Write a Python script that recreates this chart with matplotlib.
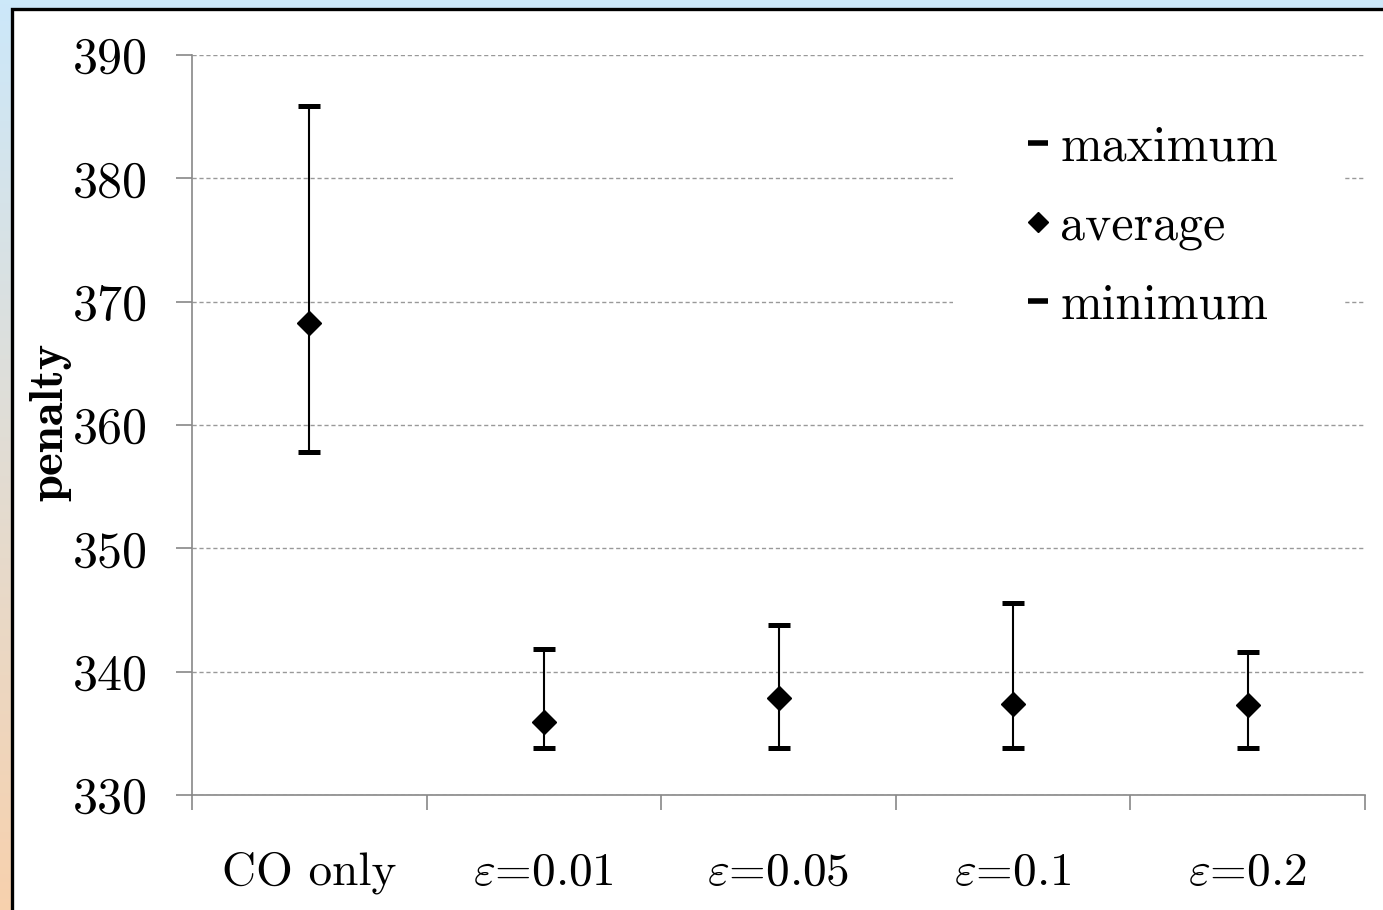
import numpy as np
import matplotlib
matplotlib.use('Agg')
import matplotlib.pyplot as plt
from matplotlib.lines import Line2D
from matplotlib.patches import Rectangle

plt.rcParams['font.family'] = ['cmr10', 'DejaVu Serif']
plt.rcParams['mathtext.fontset'] = 'cm'
plt.rcParams['axes.formatter.use_mathtext'] = True

# data
categories = ['CO only', '$\\varepsilon$=0.01', '$\\varepsilon$=0.05', '$\\varepsilon$=0.1', '$\\varepsilon$=0.2']
maximum = [385.9, 341.8, 343.8, 345.6, 341.6]
average = [368.3, 335.9, 337.9, 337.4, 337.3]
minimum = [357.8, 333.8, 333.8, 333.8, 333.8]
yticks = [330, 340, 350, 360, 370, 380, 390]

W, H = 1383, 910
fig = plt.figure(figsize=(W / 100, H / 100), dpi=100)

# slide-like background: gradient strip and white panel with black border
bg = fig.add_axes([0, 0, 1, 1], zorder=-10)
grad = np.linspace(0, 1, 256)[:, None]
top_c = np.array([0.80, 0.91, 0.98])
bot_c = np.array([0.97, 0.82, 0.68])
img = top_c[None, None, :] * (1 - grad[:, :, None]) + bot_c[None, None, :] * grad[:, :, None]
bg.imshow(img, aspect='auto', extent=[0, 1, 0, 1])
bg.set_xlim(0, 1)
bg.set_ylim(0, 1)
bg.axis('off')
bg.add_patch(Rectangle((11.5 / W, -0.01), 1.2, 1 - 8.5 / H + 0.01, facecolor='white',
                       edgecolor='black', linewidth=2.4))

ax = fig.add_axes([192 / W, 1 - 795 / H, (1365 - 192) / W, (795 - 55) / H])
ax.set_facecolor('none')
x = np.arange(len(categories))
avg = np.array(average)
yerr = [avg - np.array(minimum), np.array(maximum) - avg]
ax.errorbar(x, avg, yerr=yerr, fmt='D', color='black', ms=12, elinewidth=1.5,
            capsize=8, capthick=3.6, zorder=4)

ax.set_xlim(-0.5, len(categories) - 0.5)
ax.set_ylim(330, 390)
ax.set_yticks(yticks)
ax.set_yticklabels([str(v) for v in yticks])
ax.set_xticks(np.arange(len(categories) + 1) - 0.5)
ax.set_xticklabels([])
ax.set_xticks(x, minor=True)
ax.set_xticklabels(categories, minor=True)
ax.tick_params(axis='x', which='major', direction='out', length=11, width=1.2, color='#888888')
ax.tick_params(axis='x', which='minor', length=0, pad=41, labelsize=34)
ax.tick_params(axis='y', direction='out', length=11.5, width=1.2, color='#888888', pad=20, labelsize=36)

for s in ['top', 'right']:
    ax.spines[s].set_visible(False)
for s in ['left', 'bottom']:
    ax.spines[s].set_color('#888888')
    ax.spines[s].set_linewidth(1.2)

ax.yaxis.grid(True, color='#999999', linestyle=(0, (3, 2)), linewidth=1.0)
ax.set_axisbelow(True)

fig.text(50 / W, 1 - 422 / H, 'penalty', rotation=90, ha='center', va='center',
         fontsize=35, family=['cmb10', 'DejaVu Serif'])

handles = [
    Line2D([], [], linestyle='none', marker='_', color='black', ms=15, mew=4),
    Line2D([], [], linestyle='none', marker='D', color='black', ms=10),
    Line2D([], [], linestyle='none', marker='_', color='black', ms=15, mew=4),
]
leg = ax.legend(handles, ['maximum', 'average', 'minimum'], loc='upper right',
                bbox_to_anchor=(1343 / W, 1 - 60 / H), bbox_transform=fig.transFigure,
                fontsize=36, frameon=True, facecolor='white', edgecolor='none', framealpha=1,
                fancybox=False, borderpad=1.3, handlelength=0.8, handletextpad=0.05,
                labelspacing=0.65, borderaxespad=0)

fig.savefig('out.png', dpi=100)
